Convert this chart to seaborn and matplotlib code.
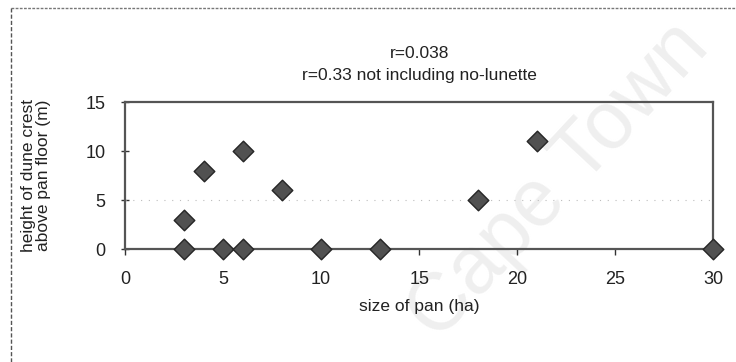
import matplotlib
matplotlib.use("Agg")
import matplotlib.pyplot as plt
import seaborn as sns
import pandas as pd
from matplotlib.lines import Line2D

# Pan size (ha) vs. lunette dune crest height (m)
pan_size = [3, 3, 4, 5, 6, 6, 8, 10, 13, 18, 21, 30]
crest_height = [3, 0, 8, 0, 10, 0, 6, 0, 0, 5, 11, 0]
x_ticks = [0, 5, 10, 15, 20, 25, 30]
y_ticks = [0, 5, 10, 15]

df = pd.DataFrame({"size": pan_size, "height": crest_height})

sns.set_style("white")
plt.rcParams["font.family"] = ["Liberation Sans", "DejaVu Sans"]

fig = plt.figure(figsize=(7.36, 3.62), dpi=100)

# faint watermark behind the chart
fig.text(0.76, 0.50, "Cape Town", fontsize=58, color="#efefef",
         rotation=47, ha="center", va="center", zorder=0)

ax = fig.add_axes([0.170, 0.312, 0.799, 0.406])
ax.set_zorder(2)
ax.set_facecolor("none")
ax.axhline(5, color="#bdbdbd", lw=0.8, ls=(0, (1, 6)), zorder=1)

sns.scatterplot(data=df, x="size", y="height", ax=ax, marker="D", s=110,
                color="#515151", edgecolor="#262626", linewidth=1.0,
                zorder=5, clip_on=False, legend=False)

ax.set_xlim(0, 30)
ax.set_ylim(0, 15)
ax.set_xticks(x_ticks)
ax.set_yticks(y_ticks)
ax.tick_params(axis="x", direction="out", length=4, width=1, color="#333333",
               labelsize=13, pad=12, labelcolor="#222222")
ax.tick_params(axis="y", direction="inout", length=6, width=1, color="#333333",
               labelsize=13, pad=11, labelcolor="#222222")
ax.tick_params(bottom=True, left=True)

for side in ["left", "bottom", "top", "right"]:
    ax.spines[side].set_visible(True)
    ax.spines[side].set_color("#555555")
    ax.spines[side].set_linewidth(1.6)

ax.set_xlabel("size of pan (ha)", fontsize=12.5, color="#222222", labelpad=8)
ax.set_ylabel("height of dune crest\nabove pan floor (m)", fontsize=12.5,
              color="#222222", labelpad=25, linespacing=0.95)
ax.set_title("r=0.038\nr=0.33 not including no-lunette", fontsize=12.5,
             color="#222222", pad=16, linespacing=1.6)

# dashed frame along the top and left of the figure
fig.add_artist(Line2D([11 / 736, 1.0], [1 - 8 / 362, 1 - 8 / 362],
                      transform=fig.transFigure, color="#777777", lw=1.0,
                      ls=(0, (2, 1))))
fig.add_artist(Line2D([11 / 736, 11 / 736], [0.0, 1 - 8 / 362],
                      transform=fig.transFigure, color="#555555", lw=1.0,
                      ls=(0, (3, 1.5))))

fig.savefig("out.png", dpi=100)
